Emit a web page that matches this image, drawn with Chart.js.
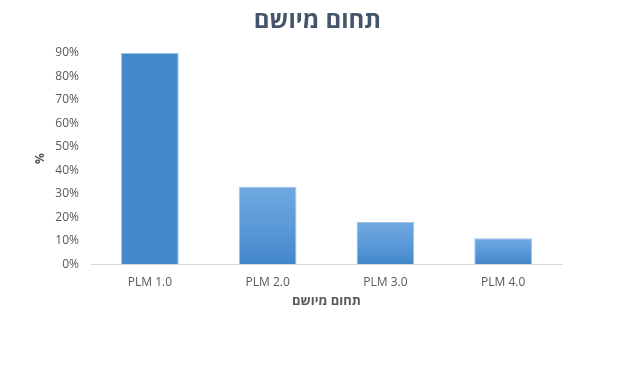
<!DOCTYPE html>
<html>
<head>
<meta charset="utf-8">
<script src="https://cdn.jsdelivr.net/npm/chart.js@4/dist/chart.umd.min.js"></script>
<style>
  html, body { margin: 0; padding: 0; background: #fff; }
  #wrap { width: 643px; height: 390px; }
</style>
</head>
<body>
<div id="wrap"><canvas id="chart" width="643" height="390"></canvas></div>
<script>
const categories = ['PLM 1.0', 'PLM 2.0', 'PLM 3.0', 'PLM 4.0'];
const values = [90, 33, 18, 11];
const yTicks = [0, 10, 20, 30, 40, 50, 60, 70, 80, 90];

const chartTitle = 'תחום מיושם';
const xTitle = 'תחום מיושם';
const yTitle = '%';

const fontFamily = '"Open Sans", "DejaVu Sans", sans-serif';

const barFill = (ctx) => {
  const chart = ctx.chart;
  const y = chart.scales.y;
  if (!y || ctx.raw == null) return '#4589cb';
  if (ctx.dataIndex === 0) return '#4589cb';
  const top = y.getPixelForValue(ctx.raw);
  const bottom = y.getPixelForValue(0);
  const g = chart.ctx.createLinearGradient(0, top, 0, bottom);
  g.addColorStop(0, '#70a8df');
  g.addColorStop(0.5, '#5b9ad8');
  g.addColorStop(1, '#4387c9');
  return g;
};

const ctx = document.getElementById('chart').getContext('2d');
new Chart(ctx, {
  type: 'bar',
  data: {
    labels: categories,
    datasets: [{
      data: values,
      backgroundColor: barFill,
      borderColor: '#9dc3e8',
      borderWidth: 1,
      categoryPercentage: 1,
      barPercentage: 0.49,
    }],
  },
  options: {
    responsive: false,
    animation: false,
    devicePixelRatio: 1,
    layout: {
      padding: {left: 33, right: 41, top: 6, bottom: 81},
    },
    scales: {
      x: {
        grid: {display: false},
        border: {color: '#d9d9d9', width: 1},
        ticks: {
          color: '#595959',
          font: {family: fontFamily, size: 12, lineHeight: 1.1},
          padding: 4,
          maxRotation: 0,
        },
        title: {
          display: true,
          text: xTitle,
          color: '#595959',
          font: {family: fontFamily, size: 13, weight: 'bold'},
          padding: {top: 0, bottom: 0},
        },
      },
      y: {
        min: 0,
        max: 90,
        afterBuildTicks: (axis) => {
          axis.ticks = yTicks.map((v) => ({value: v}));
        },
        afterFit: (axis) => {
          axis.width = 58;
        },
        grid: {display: false, drawTicks: false},
        border: {display: false},
        ticks: {
          color: '#595959',
          font: {family: fontFamily, size: 12},
          padding: 12,
          callback: (v) => v + '%',
        },
        title: {
          display: true,
          text: yTitle,
          color: '#595959',
          font: {family: fontFamily, size: 12, weight: 'bold'},
          padding: {top: 0, bottom: 6},
        },
      },
      // empty spacer on the right so the title sits where it does in the original
      spacer: {
        type: 'linear',
        position: 'right',
        display: true,
        grid: {display: false},
        border: {display: false},
        ticks: {display: false},
        afterFit: (axis) => {
          axis.width = 40;
        },
      },
    },
    plugins: {
      legend: {display: false},
      tooltip: {enabled: false},
      title: {
        display: true,
        text: chartTitle,
        color: '#44546a',
        font: {family: fontFamily, size: 24, weight: 'bold'},
        padding: {top: 1, bottom: 17},
      },
    },
  },
});
</script>
</body>
</html>
